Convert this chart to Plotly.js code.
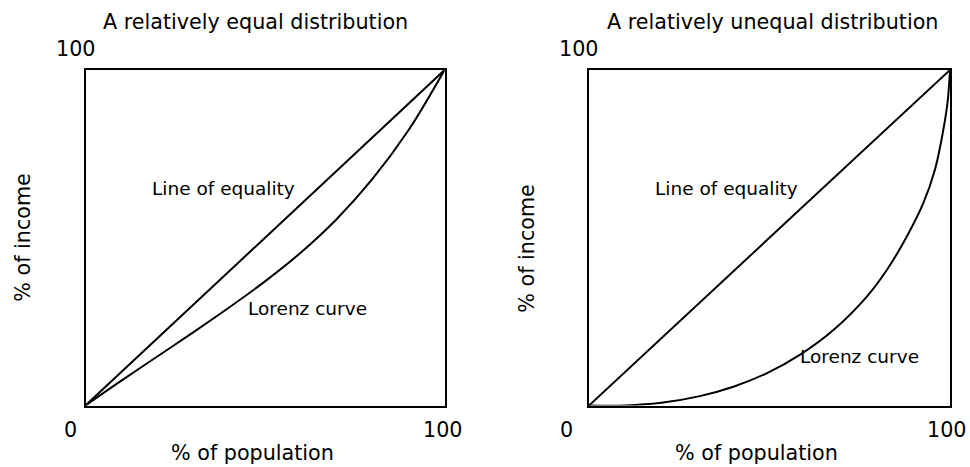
<!DOCTYPE html>
<html>
<head>
<meta charset="utf-8">
<script src="https://cdn.plot.ly/plotly-3.0.1.min.js"></script>
<style>html,body{margin:0;padding:0;background:#fff}#chart{width:970px;height:467px}</style>
</head>
<body>
<div id="chart"></div>
<script>
// Data (percent of population vs percent of income)
const equalityX = [0, 100];
const equalityY = [0, 100];

const lorenzEqualX = [0, 10, 20, 30, 40, 50, 60, 70, 80, 90, 100];
const lorenzEqualY = [0, 7.4, 14.6, 21.8, 29.2, 37.0, 45.6, 55.6, 67.6, 82.1, 100];

const lorenzUnequalX = [0, 10, 20, 30.7, 40, 49.2, 58.4, 67.7, 76.9, 82.5, 88, 92.6, 95.8, 97.8, 99.3, 100];
const lorenzUnequalY = [0, 0, 0.8, 2.8, 5.6, 9.6, 15.1, 22.5, 32.4, 40.4, 50.3, 60.3, 70.2, 80.1, 90.1, 100];

const panelTitles = ["A relatively equal distribution", "A relatively unequal distribution"];
const xAxisTitle = "% of population";
const yAxisTitle = "% of income";
const tickLow = "0";
const tickHigh = "100";
const lineLabel = "Line of equality";
const curveLabel = "Lorenz curve";

const W = 970, H = 467;
const px = v => v / W;
const py = v => 1 - v / H;
const FONT = "DejaVu Sans";
const FS = 20.7;
const FS_IN = 18.5;

const lineStyle = {color: "#000", width: 2};
const curveStyle = {color: "#000", width: 2, shape: "spline", smoothing: 1};

const traces = [
  {x: equalityX, y: equalityY, mode: "lines", line: lineStyle, xaxis: "x", yaxis: "y", hoverinfo: "skip"},
  {x: lorenzEqualX, y: lorenzEqualY, mode: "lines", line: curveStyle, xaxis: "x", yaxis: "y", hoverinfo: "skip"},
  {x: equalityX, y: equalityY, mode: "lines", line: lineStyle, xaxis: "x2", yaxis: "y2", hoverinfo: "skip"},
  {x: lorenzUnequalX, y: lorenzUnequalY, mode: "lines", line: curveStyle, xaxis: "x2", yaxis: "y2", hoverinfo: "skip"}
];

const axisBase = {
  range: [0, 100], showgrid: false, zeroline: false, showticklabels: false, ticks: "",
  showline: true, mirror: true, linecolor: "#000", linewidth: 2, fixedrange: true
};

const yDom = [py(405.5), py(70)];

const txt = (text, x, y, extra) => Object.assign({
  text: text, x: x, y: y, xref: "paper", yref: "paper", showarrow: false,
  xanchor: "center", yanchor: "middle", font: {family: FONT, size: FS, color: "#000"}
}, extra || {});
const inner = {font: {family: FONT, size: FS_IN, color: "#000"}};

const annotations = [
  // left panel
  txt(panelTitles[0], px(255.5), py(22)),
  txt(tickHigh, px(76), py(49)),
  txt(tickLow, px(70), py(430)),
  txt(tickHigh, px(443), py(430)),
  txt(xAxisTitle, px(252.5), py(453)),
  txt(yAxisTitle, px(22.7), py(237), {textangle: -90}),
  txt(lineLabel, 38.3, 64.6, Object.assign({xref: "x", yref: "y"}, inner)),
  txt(curveLabel, 61.7, 28.8, Object.assign({xref: "x", yref: "y"}, inner)),
  // right panel
  txt(panelTitles[1], px(772), py(22)),
  txt(tickHigh, px(579), py(49)),
  txt(tickLow, px(566), py(430)),
  txt(tickHigh, px(946.7), py(430)),
  txt(xAxisTitle, px(756.5), py(453)),
  txt(yAxisTitle, px(526.7), py(248), {textangle: -90}),
  txt(lineLabel, 38.2, 64.6, Object.assign({xref: "x2", yref: "y2"}, inner)),
  txt(curveLabel, 74.9, 14.5, Object.assign({xref: "x2", yref: "y2"}, inner))
];

const layout = {
  width: W, height: H,
  margin: {l: 0, r: 0, t: 0, b: 0},
  paper_bgcolor: "#fff", plot_bgcolor: "#fff",
  showlegend: false,
  font: {family: FONT, size: FS, color: "#000"},
  xaxis: Object.assign({}, axisBase, {domain: [px(85.5), px(444.5)], anchor: "y"}),
  yaxis: Object.assign({}, axisBase, {domain: yDom, anchor: "x"}),
  xaxis2: Object.assign({}, axisBase, {domain: [px(589), px(950)], anchor: "y2"}),
  yaxis2: Object.assign({}, axisBase, {domain: yDom, anchor: "x2"}),
  annotations: annotations
};

Plotly.newPlot("chart", traces, layout, {staticPlot: true, displayModeBar: false});
</script>
</body>
</html>
